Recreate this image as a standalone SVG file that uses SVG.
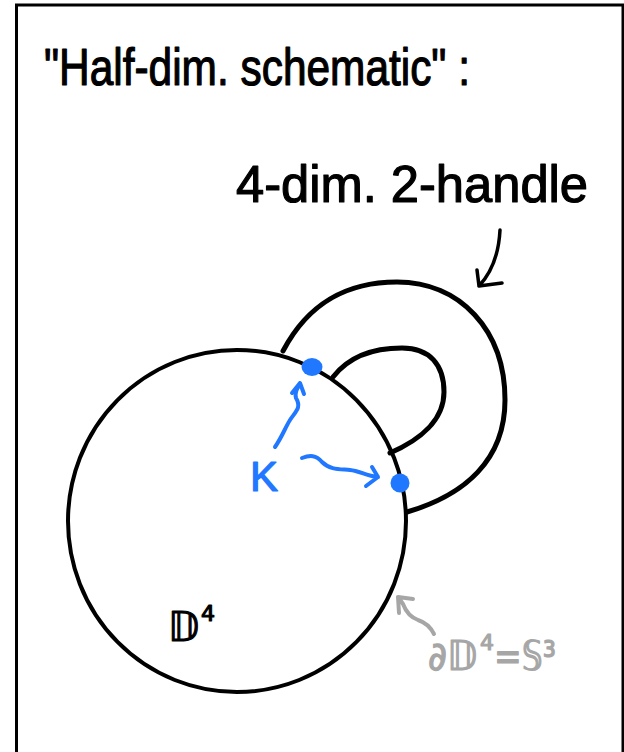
<svg xmlns="http://www.w3.org/2000/svg" width="624" height="752" viewBox="0 0 624 752">
<style>
.ink{fill:none;stroke:#000;stroke-linecap:round;stroke-linejoin:round}
.blue{fill:none;stroke:#1f78ff;stroke-width:4;stroke-linecap:round;stroke-linejoin:round}
.grey{fill:none;stroke:#a6a6a6;stroke-width:4;stroke-linecap:round;stroke-linejoin:round}
.hand{font-family:"Liberation Sans","DejaVu Sans",sans-serif;stroke-width:1.2;stroke-linejoin:round}
.math{font-family:"DejaVu Sans","Noto Sans",sans-serif;stroke-width:1.2;stroke-linejoin:round}
.gt{fill:#a6a6a6;stroke:#a6a6a6}
.bt{fill:#000;stroke:#000}
</style>
<rect width="624" height="752" fill="#fff"/>
<path id="frame" d="M16.5 752 V5 H623 V752" fill="none" stroke="#000" stroke-width="3"/>
<g id="title">
<text class="hand bt" x="44" y="85" font-size="52" textLength="426" lengthAdjust="spacingAndGlyphs">"Half-dim. schematic" :</text>
</g>
<g id="handle-label">
<text class="hand bt" x="236" y="202" font-size="52" textLength="352" lengthAdjust="spacingAndGlyphs">4-dim. 2-handle</text>
</g>
<g id="handle">
<path class="ink" stroke-width="5" d="M283 351 C310 300 350 282 397 282 C460 282 505 330 505 400 C505 460 465 495 407 512"/>
<path class="ink" stroke-width="5" d="M333 377 C350 355 375 348 402 348 C430 348 444 365 444 392 C444 420 420 440 390 453"/>
</g>
<g id="disk">
<ellipse cx="237" cy="521" rx="169" ry="171" fill="none" stroke="#000" stroke-width="4"/>
<text class="math bt" x="168" y="641" font-size="40" textLength="31" lengthAdjust="spacingAndGlyphs">𝔻</text>
<text class="math bt" x="201" y="621" font-size="22">4</text>
</g>
<g id="attaching-points">
<ellipse cx="312" cy="367" rx="10.5" ry="9" fill="#1f78ff"/>
<circle cx="400" cy="483" r="9.5" fill="#1f78ff"/>
<text class="hand" x="250" y="491" font-size="42" fill="#1f78ff" stroke="#1f78ff" stroke-width="2">K</text>
</g>
<g id="boundary-label">
<text class="math gt" x="428" y="670" font-size="40" textLength="49" lengthAdjust="spacingAndGlyphs">∂𝔻</text>
<text class="math gt" x="480" y="650" font-size="22">4</text>
<text class="math gt" x="494" y="670" font-size="40" textLength="62" lengthAdjust="spacingAndGlyphs">=𝕊³</text>
</g>
<g id="connectors">
<path class="ink" stroke-width="3.5" d="M500 230 C499 250 494 270 479 286 M477 270 L479 286 L502 283"/>
<path class="blue" d="M275 447 C282 437 285 428 290 420 C295 412 302 408 296 398 C294 392 298 388 300 383 M292 393 L300 383 L304 394"/>
<path class="blue" d="M302 458 C310 455 316 455 322 462 C330 470 340 469 350 470 C360 471 366 476 378 477 M372 467 L378 477 L366 486"/>
<path class="grey" d="M434 634 C430 626 424 622 418 620 C410 617 406 612 403 604 L398 597 M399 613 L398 597 L413 599"/>
</g>
</svg>
